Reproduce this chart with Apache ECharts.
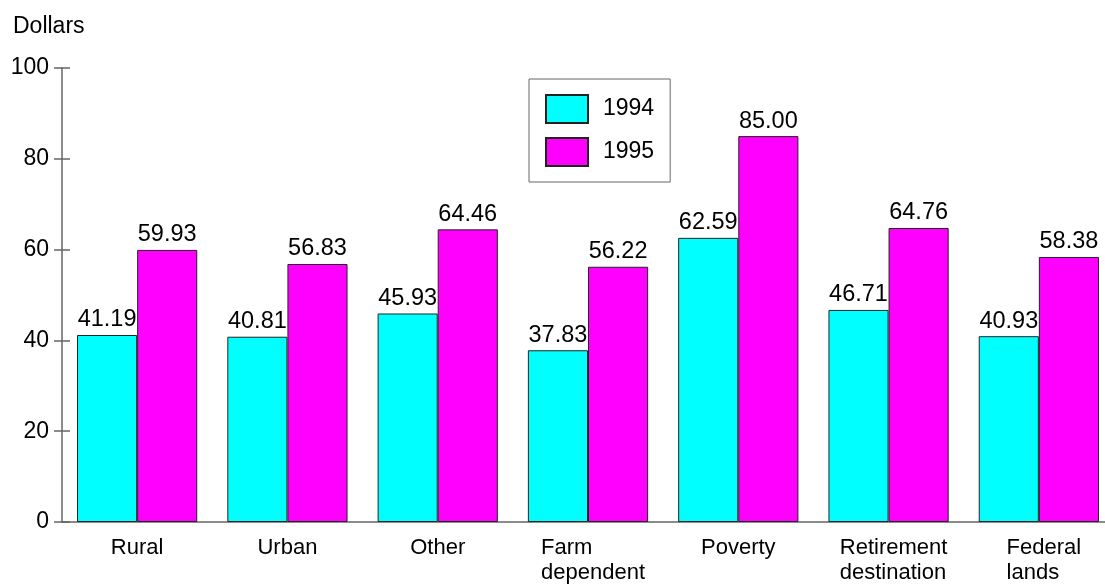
<!DOCTYPE html>
<html>
<head>
<meta charset="utf-8">
<title>Dollars by county type, 1994 and 1995</title>
<script src="https://cdn.jsdelivr.net/npm/echarts@6/dist/echarts.min.js"></script>
<style>
  html, body { margin: 0; padding: 0; background: #ffffff; overflow: hidden; }
  /* the plot runs slightly past the right edge of the page */
  #chart { width: 1125px; height: 587px; }
</style>
</head>
<body>
<div id="chart"></div>
<script>
// County types along the x axis
const categories = ['Rural', 'Urban', 'Other', 'Farm\ndependent', 'Poverty', 'Retirement\ndestination', 'Federal\nlands'];
// Dollars per county type
const values1994 = [41.19, 40.81, 45.93, 37.83, 62.59, 46.71, 40.93];
const values1995 = [59.93, 56.83, 64.46, 56.22, 85.00, 64.76, 58.38];
const seriesNames = ['1994', '1995'];
// Value axis ticks
const yTicks = { min: 0, max: 100, interval: 20 };

const FONT = '"Liberation Sans", Arial, Helvetica, sans-serif';
const AXIS_GREY = '#666666';
const BORDER = '#222222';

const chart = echarts.init(document.getElementById('chart'), null, { renderer: 'canvas' });

function barSeries(name, data, color) {
  return {
    name: name,
    type: 'bar',
    data: data,
    yAxisIndex: 0,
    barGap: '0%',
    barCategoryGap: '20%',
    itemStyle: { color: color, borderColor: BORDER, borderWidth: 1 },
    label: {
      show: true,
      position: 'top',
      distance: 3,
      color: '#000',
      fontFamily: FONT,
      fontSize: 23.5,
      formatter: p => Number(p.value).toFixed(2)
    },
    emphasis: { disabled: true }
  };
}

// two-line names sit a little right of the category centre
const categoryData = categories.map(name => name.includes('\n')
  ? { value: name, textStyle: { padding: [0, 0, 0, 10] } }
  : name);

const valueAxisBase = {
  type: 'value',
  min: yTicks.min,
  max: yTicks.max,
  interval: yTicks.interval,
  position: 'left',
  splitLine: { show: false }
};

chart.setOption({
  animation: false,
  backgroundColor: '#ffffff',
  textStyle: { fontFamily: FONT },
  title: {
    text: 'Dollars',
    left: 13,
    top: 15,
    padding: 0,
    textStyle: { fontFamily: FONT, fontSize: 23, fontWeight: 'normal', color: '#000', lineHeight: 23 }
  },
  legend: {
    orient: 'vertical',
    left: 529,
    top: 79,
    padding: [15, 16, 15, 16],
    itemWidth: 42,
    itemHeight: 28,
    itemGap: 13,
    borderColor: AXIS_GREY,
    borderWidth: 1,
    backgroundColor: '#ffffff',
    icon: 'rect',
    selectedMode: false,
    data: seriesNames,
    textStyle: { fontFamily: FONT, fontSize: 23, color: '#000', padding: [0, 0, 0, 10] }
  },
  grid: { left: 62, top: 68, width: 1052, bottom: 65, containLabel: false },
  xAxis: {
    type: 'category',
    data: categoryData,
    boundaryGap: true,
    axisLine: { show: true, lineStyle: { color: AXIS_GREY, width: 1.5 } },
    axisTick: { show: false },
    axisLabel: {
      interval: 0,
      margin: 13,
      color: '#000',
      fontFamily: FONT,
      fontSize: 22,
      lineHeight: 25,
      formatter: v => v.split('\n').map(s => '{l|' + s + '}').join('\n'),
      rich: {
        l: { align: 'left', fontFamily: FONT, fontSize: 22, lineHeight: 25, color: '#000' }
      }
    },
    splitLine: { show: false }
  },
  yAxis: [
    Object.assign({}, valueAxisBase, {
      axisLine: { show: true, lineStyle: { color: AXIS_GREY, width: 1.5 } },
      axisTick: { show: true, inside: false, length: 8, lineStyle: { color: AXIS_GREY, width: 1.5 } },
      axisLabel: { margin: 13, color: '#000', fontFamily: FONT, fontSize: 23 }
    }),
    // inner half of the cross-shaped ticks
    Object.assign({}, valueAxisBase, {
      axisLine: { show: false },
      axisTick: { show: true, inside: true, length: 8, lineStyle: { color: AXIS_GREY, width: 1.5 } },
      axisLabel: { show: false }
    })
  ],
  series: [
    barSeries(seriesNames[0], values1994, '#00ffff'),
    barSeries(seriesNames[1], values1995, '#ff00ff')
  ]
});
</script>
</body>
</html>
